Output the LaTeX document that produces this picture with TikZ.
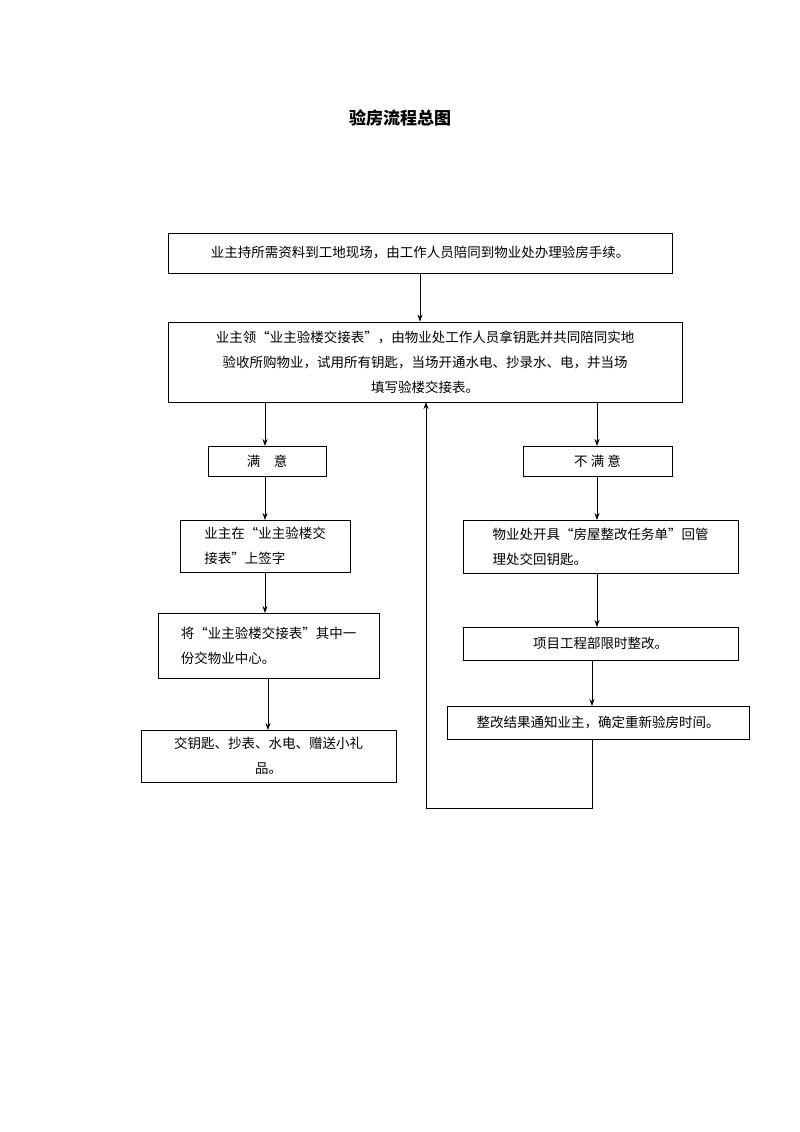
\documentclass[tikz,border=0pt]{standalone}
\usepackage{fontspec}
\setmainfont{Noto Sans CJK SC}
\usetikzlibrary{arrows.meta}
\begin{document}
\begin{tikzpicture}[x=1pt,y=-1pt,
  box/.style={draw,line width=0.8pt,inner sep=0pt,font=\fontsize{13.5}{25}\selectfont},
  arr/.style={-{Stealth[length=7pt,width=5pt]},line width=0.8pt},
  ln/.style={line width=0.8pt}]
\useasboundingbox (0,0) rectangle (800,1132);
\node[font=\bfseries\fontsize{17}{20}\selectfont] (title) at (400,118) {验房流程总图};
\newcommand\bx[6]{\node[box,minimum width=#3-#1,minimum height=#4-#2,align=#6] (#5) at ({(#1+#3)/2},{(#2+#4)/2}) {\strut};}
\node[box,minimum width=504,minimum height=40] (b1) at (420,253) {业主持所需资料到工地现场，由工作人员陪同到物业处办理验房手续。};
\node[box,minimum width=514,minimum height=80,align=center] (b2) at (425,362) {业主领“业主验楼交接表”，由物业处工作人员拿钥匙并共同陪同实地\\验收所购物业，试用所有钥匙，当场开通水电、抄录水、电，并当场\\填写验楼交接表。};
\node[box,minimum width=118,minimum height=30] (s) at (267,461) {满\quad 意};
\node[box,minimum width=149,minimum height=30] (ns) at (597.5,461) {不\ 满\ 意};
\node[box,minimum width=170,minimum height=52,align=left] (s1) at (265,546) {业主在“业主验楼交\\接表”上签字};
\node[box,minimum width=275,minimum height=53,align=left] (n1) at (600.5,546.5) {物业处开具“房屋整改任务单”回管\\理处交回钥匙。};
\node[box,minimum width=221,minimum height=65,align=left] (s2) at (268.5,645.5) {将“业主验楼交接表”其中一\\份交物业中心。};
\node[box,minimum width=275,minimum height=33] (n2) at (600.5,643.5) {项目工程部限时整改。};
\node[box,minimum width=255,minimum height=52,align=center] (s3) at (268.5,756) {交钥匙、抄表、水电、赠送小礼\\品。};
\node[box,minimum width=302,minimum height=33] (n3) at (598,722.5) {整改结果通知业主，确定重新验房时间。};
\draw[arr] (b1.south) -- (b1.south|-b2.north);
\draw[arr] (265,402) -- (265,446);
\draw[arr] (597,402) -- (597,446);
\draw[arr] (265,476) -- (265,520);
\draw[arr] (597,476) -- (597,520);
\draw[arr] (265,572) -- (265,613);
\draw[arr] (597,573) -- (597,627);
\draw[arr] (268,678) -- (268,730);
\draw[arr] (592,660) -- (592,706);
\coordinate (c1) at (592,808);
\coordinate (c2) at (426,808);
\draw[arr] (592,739) -- (c1) -- (c2) -- (426,402);
\end{tikzpicture}
\end{document}
